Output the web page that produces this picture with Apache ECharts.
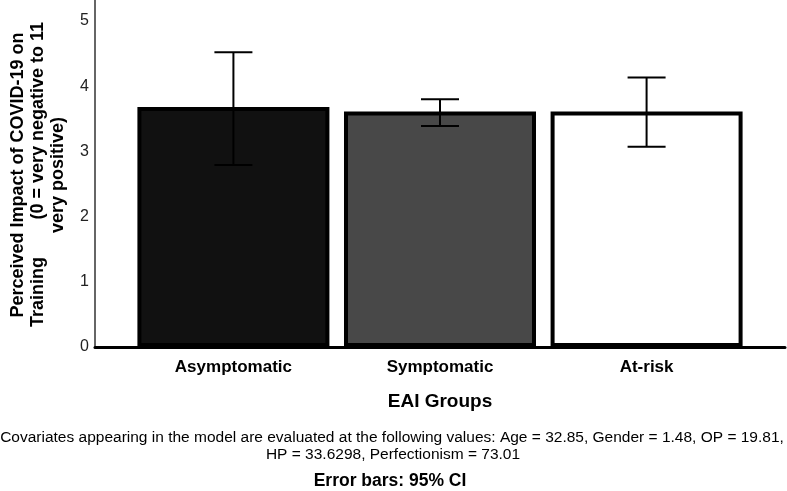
<!DOCTYPE html>
<html>
<head>
<meta charset="utf-8">
<script src="https://cdn.jsdelivr.net/npm/echarts@6/dist/echarts.min.js"></script>
<style>
html,body{margin:0;padding:0;background:#fff;}
#c{width:787px;height:491px;}
</style>
</head>
<body>
<div id="c"></div>
<script>
var categories = ['Asymptomatic', 'Symptomatic', 'At-risk'];
var means = [3.68, 3.61, 3.61];
var ciLow = [2.79, 3.39, 3.07];
var ciHigh = [4.52, 3.80, 4.13];
var barColors = ['#111111', '#484848', '#ffffff'];
var yTicks = [0, 1, 2, 3, 4, 5];

var FONT = '"Liberation Sans", Arial, sans-serif';
var chart = echarts.init(document.getElementById('c'));

var barData = categories.map(function (c, i) {
  return { value: [i, means[i]], itemStyle: { color: barColors[i] } };
});
var errData = categories.map(function (c, i) { return [i, ciLow[i], ciHigh[i]]; });

chart.setOption({
  animation: false,
  backgroundColor: '#fff',
  grid: { left: 95, right: 2, top: 0, bottom: 144 },
  xAxis: {
    type: 'value',
    min: -0.67,
    max: 2.67,
    axisLine: { show: true, onZero: false, lineStyle: { color: '#000', width: 3 } },
    axisTick: { show: false },
    splitLine: { show: false },
    axisLabel: {
      customValues: [0, 1, 2],
      formatter: function (v) { return categories[Math.round(v)]; },
      color: '#000', fontFamily: FONT, fontWeight: 'bold', fontSize: 17, margin: 12
    },
    name: 'EAI Groups',
    nameLocation: 'middle',
    nameGap: 45,
    nameTextStyle: { color: '#000', fontFamily: FONT, fontWeight: 'bold', fontSize: 19 }
  },
  yAxis: {
    type: 'value',
    min: 0,
    max: 5.32,
    axisLine: { show: true, onZero: false, lineStyle: { color: '#333', width: 1.5 } },
    axisTick: { show: false },
    splitLine: { show: false },
    axisLabel: {
      customValues: yTicks,
      formatter: function (v) { return String(v); },
      color: '#222', fontFamily: FONT, fontSize: 16, margin: 6
    }
  },
  graphic: [
    { type: 'text', x: 18, y: 175, rotation: Math.PI / 2,
      style: { text: 'Perceived Impact of COVID-19 on', fill: '#000', font: 'bold 18px ' + FONT, textAlign: 'center', textVerticalAlign: 'middle' } },
    { type: 'text', x: 38, y: 327, rotation: Math.PI / 2,
      style: { text: 'Training', fill: '#000', font: 'bold 18px ' + FONT, textAlign: 'left', textVerticalAlign: 'middle' } },
    { type: 'text', x: 38, y: 22, rotation: Math.PI / 2,
      style: { text: '(0 = very negative to 11', fill: '#000', font: 'bold 18px ' + FONT, textAlign: 'right', textVerticalAlign: 'middle' } },
    { type: 'text', x: 58, y: 175, rotation: Math.PI / 2,
      style: { text: 'very positive)', fill: '#000', font: 'bold 18px ' + FONT, textAlign: 'center', textVerticalAlign: 'middle' } },
    { type: 'text', x: 392, y: 438,
      style: { text: 'Covariates appearing in the model are evaluated at the following values: Age = 32.85, Gender = 1.48, OP = 19.81,', fill: '#000', font: '15.5px ' + FONT, textAlign: 'center', textVerticalAlign: 'middle' } },
    { type: 'text', x: 393, y: 455,
      style: { text: 'HP = 33.6298, Perfectionism = 73.01', fill: '#000', font: '15.5px ' + FONT, textAlign: 'center', textVerticalAlign: 'middle' } },
    { type: 'text', x: 390, y: 481,
      style: { text: 'Error bars: 95% CI', fill: '#000', font: 'bold 17.5px ' + FONT, textAlign: 'center', textVerticalAlign: 'middle' } }
  ],
  series: [
    {
      type: 'bar',
      data: barData,
      barWidth: 192,
      itemStyle: { borderColor: '#000', borderWidth: 4 },
      z: 2
    },
    {
      type: 'custom',
      data: errData,
      z: 5,
      renderItem: function (params, api) {
        var x = api.value(0);
        var lo = api.coord([x, api.value(1)]);
        var hi = api.coord([x, api.value(2)]);
        var hw = 19;
        var st = { stroke: '#000', lineWidth: 2 };
        return {
          type: 'group',
          children: [
            { type: 'line', shape: { x1: hi[0], y1: hi[1], x2: lo[0], y2: lo[1] }, style: st },
            { type: 'line', shape: { x1: hi[0] - hw, y1: hi[1], x2: hi[0] + hw, y2: hi[1] }, style: st },
            { type: 'line', shape: { x1: lo[0] - hw, y1: lo[1], x2: lo[0] + hw, y2: lo[1] }, style: st }
          ]
        };
      }
    }
  ]
});
</script>
</body>
</html>
